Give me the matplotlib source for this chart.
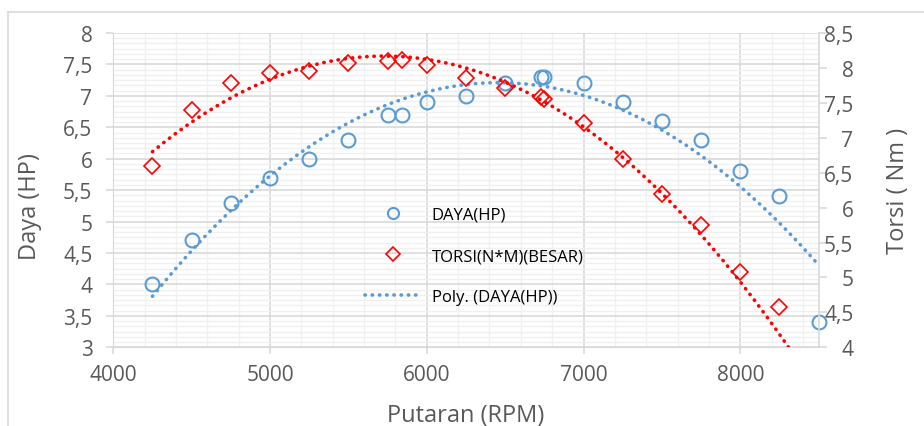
import matplotlib
matplotlib.use("Agg")
import matplotlib.pyplot as plt
import numpy as np
from matplotlib.ticker import MultipleLocator, FuncFormatter
from matplotlib.lines import Line2D

# data
rpm_daya = [4250, 4500, 4750, 5000, 5250, 5500, 5750, 5840, 6000, 6250, 6500,
            6730, 6750, 7000, 7250, 7500, 7750, 8000, 8250, 8500]
daya = [4.0, 4.7, 5.3, 5.7, 6.0, 6.3, 6.7, 6.7, 6.9, 7.0, 7.2,
        7.3, 7.3, 7.2, 6.9, 6.6, 6.3, 5.8, 5.4, 3.4]

# last torque point lies below the visible axis range
rpm_torsi = [4250, 4500, 4750, 5000, 5250, 5500, 5750, 5840, 6000, 6250, 6500,
             6730, 6750, 7000, 7250, 7500, 7750, 8000, 8250, 8500]
torsi = [6.6, 7.4, 7.78, 7.93, 7.96, 8.07, 8.1, 8.11, 8.04, 7.86, 7.71,
         7.59, 7.55, 7.21, 6.7, 6.2, 5.75, 5.08, 4.58, 2.85]

blue = "#5b9bd5"
red = "#ff0000"
gray = "#595959"

def comma(v, pos):
	s = ("%.1f" % v).rstrip("0").rstrip(".")
	return s.replace(".", ",")

plt.rcParams['font.family'] = ['Open Sans', 'DejaVu Sans']

fig = plt.figure(figsize=(9.24, 4.27), dpi=100)
ax = fig.add_axes([0.1226, 0.1843, 0.7634, 0.7361])
ax2 = ax.twinx()

# outer chart border (cropped)
fig.add_artist(Line2D([8/924, 1], [1-13/427, 1-13/427], color="#d9d9d9", lw=1.2))
fig.add_artist(Line2D([8/924, 8/924], [0, 1-13/427], color="#d9d9d9", lw=1.2))

ax.set_xlim(4000, 8500)
ax.set_ylim(3, 8)
ax2.set_ylim(4, 8.5)

ax.xaxis.set_major_locator(MultipleLocator(1000))
ax.xaxis.set_minor_locator(MultipleLocator(200))
ax.yaxis.set_major_locator(MultipleLocator(0.5))
ax.yaxis.set_minor_locator(MultipleLocator(0.5/6))
ax2.yaxis.set_major_locator(MultipleLocator(0.5))
ax.yaxis.set_major_formatter(FuncFormatter(comma))
ax2.yaxis.set_major_formatter(FuncFormatter(comma))

ax.grid(which="major", color="#d9d9d9", lw=1.2)
ax.grid(which="minor", color="#f0f0f0", lw=1.0)
ax.set_axisbelow(True)

for a in (ax, ax2):
	for s in a.spines.values():
		s.set_visible(False)
ax.spines['left'].set_visible(True)
ax.spines['left'].set_color("#d9d9d9")
ax.spines['bottom'].set_visible(True)
ax.spines['bottom'].set_color("#d9d9d9")
ax2.spines['right'].set_visible(True)
ax2.spines['right'].set_color("#d9d9d9")
ax2.spines['right'].set_linewidth(1.2)

ax.tick_params(which="major", color="#d9d9d9", length=5, width=1.2, labelsize=15, labelcolor=gray)
ax.tick_params(which="minor", length=0)
ax.tick_params(axis="y", pad=10)
ax.tick_params(axis="x", pad=7)
ax2.tick_params(color="#d9d9d9", length=6, width=1.2, labelsize=15, labelcolor=gray, pad=19)
for t in ax2.get_yticklabels():
	t.set_horizontalalignment("right")

# polynomial trendlines
xs = np.linspace(4250, 8500, 300)
pd_ = np.polyfit(rpm_daya, daya, 2)
pt_ = np.polyfit(rpm_torsi, torsi, 2)
dots = dict(lw=2.6, linestyle=(0, (0.1, 1.9)), dash_capstyle="round")
ax.plot(xs, np.polyval(pd_, xs), color=blue, **dots)
ax2.plot(xs, np.polyval(pt_, xs), color=red, **dots)

ax.plot(rpm_daya, daya, "o", mfc="none", mec=blue, ms=10, mew=1.5, clip_on=False)
ax2.plot(rpm_torsi, torsi, "D", mfc="none", mec=red, ms=8, mew=1.2)

ax.set_xlabel("Putaran (RPM)", fontsize=17, color=gray, va="center")
ax.xaxis.set_label_coords(0.5, -0.215)
ax.set_ylabel("Daya (HP)", fontsize=17, color=gray, va="center")
ax.yaxis.set_label_coords(-0.118, 0.45)
ax2.set_ylabel("Torsi ( Nm )", fontsize=17, color=gray, va="center")
ax2.yaxis.set_label_coords(1.112, 0.5)

handles = [
	Line2D([], [], ls="none", marker="o", mfc="none", mec=blue, ms=8, mew=1.5),
	Line2D([], [], ls="none", marker="D", mfc="none", mec=red, ms=7, mew=1.2),
	Line2D([], [], color=blue, lw=2.6, linestyle=(0, (0.1, 1.9)), dash_capstyle="round"),
]
labels = ["DAYA(HP)", "TORSI(N*M)(BESAR)", "Poly. (DAYA(HP))"]
ax2.legend(handles, labels, loc="upper left", bbox_to_anchor=(365/924, 1-208/427),
           bbox_transform=fig.transFigure, frameon=False, fontsize=12,
           labelspacing=1.5, handlelength=3.3, handletextpad=0.7, borderpad=0, borderaxespad=0)

fig.savefig("out.png", dpi=100)
